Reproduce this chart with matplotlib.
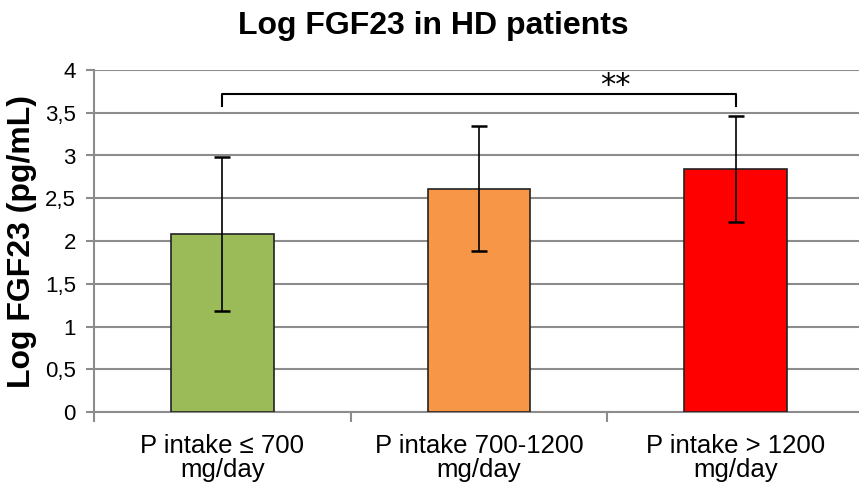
import matplotlib
matplotlib.use("Agg")
import matplotlib.pyplot as plt

categories = ["P intake ≤ 700\nmg/day", "P intake 700-1200\nmg/day", "P intake > 1200\nmg/day"]
means = [2.08, 2.61, 2.84]
errors = [0.90, 0.73, 0.62]
colors = ["#9BBB59", "#F79646", "#FF0000"]
yticks = [0, 0.5, 1, 1.5, 2, 2.5, 3, 3.5, 4]
ytick_labels = ["0", "0,5", "1", "1,5", "2", "2,5", "3", "3,5", "4"]
bracket_y = 3.72
bracket_drop = 0.14
sig_label = "**"

plt.rcParams['font.family'] = ['Liberation Sans', 'DejaVu Sans']

fig = plt.figure(figsize=(8.59, 4.90), dpi=100)
ax = fig.add_axes([94/859, 78/490, 770/859, 342/490])

x = list(range(len(categories)))
ax.bar(x, means, width=0.40, color=colors, edgecolor="#222222", linewidth=1.2, zorder=3)
ax.errorbar(x, means, yerr=errors, fmt="none", ecolor="black", elinewidth=1.2,
            capsize=6, capthick=1.8, zorder=4)

ax.set_xlim(-0.5, 2.5)
ax.set_ylim(0, 4)
ax.set_yticks(yticks)
ax.set_yticklabels(ytick_labels, fontsize=16)
ax.yaxis.grid(True, color="#8C8C8C", linewidth=1.5, zorder=0)
ax.set_axisbelow(True)

ax.set_xticks([-0.5, 0.5, 1.5, 2.5])
ax.set_xticklabels([])
ax.set_xticks(x, minor=True)
ax.set_xticklabels(categories, minor=True, fontsize=18.5, linespacing=1.0)
ax.tick_params(axis="x", which="minor", length=0, pad=16)
ax.tick_params(axis="x", which="major", length=7, color="#8C8C8C", width=1.5, direction="out")
ax.tick_params(axis="y", length=6, color="#8C8C8C", width=1.5, direction="out", pad=7)

for s in ["top", "right"]:
    ax.spines[s].set_visible(False)
for s in ["left", "bottom"]:
    ax.spines[s].set_color("#8C8C8C")
    ax.spines[s].set_linewidth(1.5)

ax.set_ylabel("Log FGF23 (pg/mL)", fontsize=23, fontweight="bold", labelpad=6)
fig.suptitle("Log FGF23 in HD patients", fontsize=23, fontweight="bold", x=0.505, y=0.978)

# significance bracket
x0, x1 = 0, 2
ax.plot([x0, x0, x1, x1], [bracket_y - bracket_drop, bracket_y, bracket_y, bracket_y - bracket_drop],
        color="black", linewidth=1.5, zorder=5)
ax.text(1.53, bracket_y - 0.07, sig_label, ha="center", va="bottom", fontsize=22,
        family=["DejaVu Sans"], zorder=5)

fig.savefig("out.png", dpi=100)
